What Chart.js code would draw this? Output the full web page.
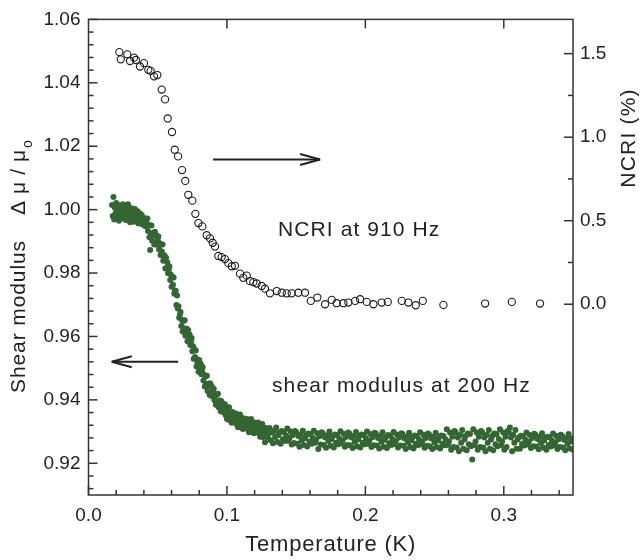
<!DOCTYPE html>
<html>
<head>
<meta charset="utf-8">
<script src="https://cdn.jsdelivr.net/npm/chart.js@4.4.1/dist/chart.umd.min.js"></script>
<style>
  html, body { margin: 0; padding: 0; background: #fff; }
  #wrap { width: 640px; height: 560px; }
</style>
</head>
<body>
<div id="wrap"><canvas id="chart"></canvas></div>
<script>
// NCRI at 910 Hz (open circles, right axis, %)
const ncriT = [
  0.0223,0.0233,0.0280,0.0300,0.0329,0.0343,0.0372,0.0401,0.0432,0.0449,
  0.0473,0.0497,0.0529,0.0553,0.0572,0.0603,0.0623,0.0647,0.0676,0.0699,
  0.0721,0.0750,0.0772,0.0794,0.0822,0.0854,0.0878,0.0897,0.0914,0.0938,
  0.0962,0.0986,0.1010,0.1035,0.1058,0.1095,0.1118,0.1143,0.1167,0.1191,
  0.1215,0.1251,0.1275,0.1311,0.1360,0.1396,0.1432,0.1468,0.1516,0.1564,
  0.1606,0.1653,0.1709,0.1757,0.1793,0.1841,0.1877,0.1926,0.1962,0.2010,
  0.2058,0.2118,0.2162,0.2263,0.2311,0.2364,0.2415,0.2564,0.2865,0.3058,
  0.3262
];
const ncriPct = [
  1.509,1.466,1.496,1.456,1.476,1.462,1.423,1.443,1.403,1.397,
  1.364,1.372,1.285,1.226,1.112,1.031,0.925,0.885,0.803,0.738,
  0.655,0.620,0.541,0.486,0.466,0.413,0.394,0.368,0.345,0.289,
  0.282,0.270,0.246,0.227,0.230,0.183,0.158,0.171,0.138,0.132,
  0.124,0.109,0.093,0.065,0.079,0.069,0.065,0.065,0.069,0.069,
  0.020,0.040,0.000,0.026,0.006,0.006,0.010,0.020,0.030,0.014,
  0.000,0.010,0.014,0.020,0.010,-0.006,0.020,-0.004,0.004,0.014,
  0.004
];

// shear modulus at 200 Hz (filled green dots, left axis)
const shearT = [
  0.0170,0.0175,0.0180,0.0185,0.0190,0.0195,0.0200,0.0205,0.0210,0.0215,
  0.0220,0.0225,0.0230,0.0235,0.0240,0.0245,0.0250,0.0255,0.0260,0.0265,
  0.0270,0.0275,0.0280,0.0285,0.0290,0.0295,0.0300,0.0305,0.0310,0.0315,
  0.0320,0.0325,0.0330,0.0335,0.0340,0.0345,0.0350,0.0355,0.0360,0.0365,
  0.0370,0.0375,0.0380,0.0385,0.0390,0.0395,0.0400,0.0405,0.0410,0.0415,
  0.0420,
  0.0425,0.0430,0.0435,0.0440,0.0445,0.0450,0.0455,0.0460,0.0465,0.0470,
  0.0475,0.0480,0.0485,0.0490,0.0495,0.0500,0.0505,0.0510,0.0515,0.0520,
  0.0525,0.0530,0.0535,0.0540,0.0545,0.0550,0.0555,0.0560,0.0565,0.0570,
  0.0575,0.0580,0.0585,0.0590,0.0595,0.0600,0.0605,0.0610,0.0615,0.0620,
  0.0625,0.0630,0.0635,0.0640,0.0645,0.0650,0.0655,0.0660,0.0665,0.0670,
  0.0675,0.0680,0.0685,0.0690,0.0695,0.0700,0.0705,0.0710,0.0715,0.0720,
  0.0725,0.0730,0.0735,0.0740,0.0745,0.0750,0.0755,0.0760,0.0765,0.0770,
  0.0775,0.0780,0.0785,0.0790,0.0795,0.0800,0.0805,0.0810,0.0815,0.0820,
  0.0825,0.0830,0.0835,0.0840,0.0845,0.0850,0.0855,0.0860,0.0865,0.0870,
  0.0875,0.0880,0.0885,0.0890,0.0895,0.0900,
  0.0905,0.0910,0.0915,0.0920,0.0925,0.0930,0.0935,0.0940,0.0945,0.0950,
  0.0955,0.0960,0.0965,0.0970,0.0975,0.0980,0.0985,0.0990,0.0995,0.1000,
  0.1005,0.1010,0.1015,0.1020,0.1025,0.1030,0.1035,0.1040,0.1045,0.1050,
  0.1055,0.1060,0.1065,0.1070,0.1075,0.1080,0.1085,0.1090,0.1095,0.1100,
  0.1105,0.1110,0.1115,0.1120,0.1125,0.1130,0.1135,0.1140,0.1145,0.1150,
  0.1155,0.1160,0.1165,0.1170,0.1175,0.1180,0.1185,0.1190,0.1195,0.1200,
  0.1205,0.1210,0.1215,0.1220,0.1225,0.1230,0.1235,0.1240,0.1245,0.1250,
  0.1255,0.1260,0.1265,0.1270,0.1275,0.1280,0.1285,0.1290,0.1295,0.1300,
  0.1308,0.1316,0.1324,0.1332,0.1340,0.1348,0.1356,0.1364,0.1372,0.1380,0.1388,0.1396,0.1404,0.1412,0.1420,0.1428,0.1436,0.1444,0.1452,0.1460,0.1468,0.1476,0.1484,0.1492,0.1500,
  0.1508,0.1516,0.1524,0.1532,0.1540,0.1548,0.1556,0.1564,0.1572,0.1580,0.1588,0.1596,0.1604,0.1612,0.1620,0.1628,0.1636,0.1644,0.1652,0.1660,0.1668,0.1676,0.1684,0.1692,0.1700,
  0.1708,0.1716,0.1724,0.1732,0.1740,0.1748,0.1756,0.1764,0.1772,0.1780,0.1788,0.1796,0.1804,0.1812,0.1820,0.1828,0.1836,0.1844,0.1852,0.1860,0.1868,0.1876,0.1884,0.1892,0.1900,
  0.1908,0.1916,0.1924,0.1932,0.1940,0.1948,0.1956,0.1964,0.1972,0.1980,0.1988,0.1996,0.2004,0.2012,0.2020,0.2028,0.2036,0.2044,0.2052,0.2060,0.2068,0.2076,0.2084,0.2092,0.2100,
  0.2108,0.2116,0.2124,0.2132,0.2140,0.2148,0.2156,0.2164,0.2172,0.2180,0.2188,0.2196,0.2204,0.2212,0.2220,0.2228,0.2236,0.2244,0.2252,0.2260,0.2268,0.2276,0.2284,0.2292,0.2300,
  0.2308,0.2316,0.2324,0.2332,0.2340,0.2348,0.2356,0.2364,0.2372,0.2380,0.2388,0.2396,0.2404,0.2412,0.2420,0.2428,0.2436,0.2444,0.2452,0.2460,0.2468,0.2476,0.2484,0.2492,0.2500,
  0.2508,0.2516,0.2524,0.2532,0.2540,0.2548,0.2556,0.2564,0.2572,0.2580,0.2588,0.2596,0.2604,0.2612,0.2620,0.2628,0.2636,0.2644,0.2652,0.2660,0.2668,0.2676,0.2684,0.2692,0.2700,
  0.2708,0.2716,0.2724,0.2732,0.2740,0.2748,0.2756,0.2764,0.2772,0.2780,0.2788,0.2796,0.2804,0.2812,0.2820,0.2828,0.2836,0.2844,0.2852,0.2860,0.2868,0.2876,0.2884,0.2892,0.2900,
  0.2908,0.2916,0.2924,0.2932,0.2940,0.2948,0.2956,0.2964,0.2972,0.2980,0.2988,0.2996,0.3004,0.3012,0.3020,0.3028,0.3036,0.3044,0.3052,0.3060,0.3068,0.3076,0.3084,0.3092,0.3100,
  0.3108,0.3116,0.3124,0.3132,0.3140,0.3148,0.3156,0.3164,0.3172,0.3180,0.3188,0.3196,0.3204,0.3212,0.3220,0.3228,0.3236,0.3244,0.3252,0.3260,0.3268,0.3276,0.3284,0.3292,0.3300,
  0.3308,0.3316,0.3324,0.3332,0.3340,0.3348,0.3356,0.3364,0.3372,0.3380,0.3388,0.3396,0.3404,0.3412,0.3420,0.3428,0.3436,0.3444,0.3452,0.3460,0.3468,0.3476,0.3484,0.3492,0.3500
];
const shearMod = [
  1.0015,0.9980,1.0040,0.9969,1.0006,0.9989,1.0021,0.9975,0.9993,1.0003,
  0.9965,1.0014,0.9984,1.0007,0.9972,0.9995,1.0017,0.9979,0.9987,1.0008,
  0.9967,0.9996,0.9973,1.0017,0.9980,0.9999,0.9960,0.9987,1.0004,0.9973,
  0.9998,0.9962,0.9986,1.0002,0.9965,0.9988,0.9973,0.9995,0.9956,0.9981,
  0.9964,0.9987,0.9968,0.9982,0.9953,0.9972,0.9957,0.9973,0.9948,0.9962,
  0.9949,
  0.9972,0.9933,0.9952,0.9913,0.9873,0.9925,0.9950,0.9902,0.9919,0.9927,
  0.9890,0.9930,0.9900,0.9919,0.9889,0.9903,0.9915,0.9874,0.9893,0.9857,
  0.9890,0.9868,0.9890,0.9839,0.9851,0.9855,0.9814,0.9848,0.9816,0.9833,
  0.9799,0.9810,0.9821,0.9778,0.9795,0.9757,0.9788,0.9763,0.9786,0.9735,
  0.9745,0.9744,0.9699,0.9729,0.9688,0.9695,0.9659,0.9668,0.9677,0.9633,
  0.9652,0.9616,0.9649,0.9626,0.9651,0.9602,0.9617,0.9624,0.9585,0.9620,
  0.9589,0.9606,0.9573,0.9583,0.9595,0.9553,0.9569,0.9530,0.9560,0.9535,
  0.9556,0.9505,0.9521,0.9527,0.9489,0.9526,0.9495,0.9514,0.9481,0.9493,
  0.9504,0.9461,0.9480,0.9442,0.9474,0.9450,0.9476,0.9428,0.9445,0.9452,
  0.9415,0.9452,0.9423,0.9442,0.9411,0.9423,
  0.9435,0.9399,0.9416,0.9385,0.9415,0.9396,0.9419,0.9377,0.9392,0.9398,
  0.9364,0.9396,0.9370,0.9388,0.9361,0.9374,0.9386,0.9352,0.9370,0.9340,
  0.9371,0.9353,0.9377,0.9336,0.9352,0.9360,0.9328,0.9362,0.9337,0.9357,
  0.9330,0.9344,0.9357,0.9324,0.9343,0.9314,0.9346,0.9329,0.9354,0.9314,
  0.9331,0.9339,0.9308,0.9342,0.9318,0.9338,0.9312,0.9325,0.9340,0.9307,
  0.9326,0.9298,0.9330,0.9314,0.9340,0.9300,0.9317,0.9326,0.9295,0.9329,
  0.9306,0.9326,0.9301,0.9315,0.9329,0.9295,0.9314,0.9284,0.9316,0.9299,
  0.9324,0.9283,0.9300,0.9308,0.9266,0.9311,0.9287,0.9307,0.9281,0.9295,
  0.9311,0.9273,0.9297,0.9263,0.9302,0.9283,0.9313,0.9267,0.9289,0.9297,0.9262,0.9302,0.9276,0.9299,0.9270,0.9287,0.9310,0.9271,0.9280,0.9300,0.9259,0.9289,0.9264,0.9302,0.9299,
  0.9262,0.9286,0.9252,0.9291,0.9273,0.9303,0.9258,0.9279,0.9288,0.9253,0.9294,0.9268,0.9292,0.9262,0.9280,0.9303,0.9265,0.9274,0.9295,0.9245,0.9285,0.9259,0.9298,0.9295,0.9258,
  0.9282,0.9249,0.9288,0.9270,0.9300,0.9255,0.9277,0.9286,0.9250,0.9291,0.9265,0.9289,0.9260,0.9278,0.9301,0.9263,0.9272,0.9293,0.9252,0.9283,0.9258,0.9297,0.9294,0.9257,0.9281,
  0.9248,0.9287,0.9269,0.9299,0.9254,0.9276,0.9285,0.9250,0.9291,0.9265,0.9289,0.9260,0.9278,0.9300,0.9262,0.9271,0.9292,0.9251,0.9282,0.9257,0.9296,0.9293,0.9256,0.9280,0.9247,
  0.9286,0.9268,0.9298,0.9252,0.9274,0.9283,0.9248,0.9289,0.9263,0.9287,0.9258,0.9276,0.9299,0.9261,0.9270,0.9291,0.9250,0.9281,0.9256,0.9295,0.9292,0.9255,0.9278,0.9245,0.9284,
  0.9266,0.9296,0.9251,0.9273,0.9282,0.9247,0.9288,0.9262,0.9286,0.9257,0.9275,0.9298,0.9260,0.9269,0.9290,0.9249,0.9280,0.9255,0.9294,0.9291,0.9254,0.9278,0.9245,0.9284,0.9266,
  0.9296,0.9251,0.9273,0.9282,0.9247,0.9288,0.9262,0.9286,0.9257,0.9275,0.9307,0.9258,0.9269,0.9297,0.9243,0.9284,0.9251,0.9302,0.9298,0.9250,0.9281,0.9238,0.9289,0.9265,0.9305,
  0.9246,0.9275,0.9286,0.9241,0.9294,0.9260,0.9292,0.9254,0.9212,0.9307,0.9258,0.9269,0.9297,0.9243,0.9284,0.9251,0.9302,0.9298,0.9250,0.9281,0.9238,0.9289,0.9265,0.9305,0.9246,
  0.9275,0.9286,0.9241,0.9294,0.9260,0.9292,0.9254,0.9277,0.9307,0.9258,0.9269,0.9297,0.9243,0.9284,0.9251,0.9302,0.9298,0.9313,0.9281,0.9238,0.9289,0.9265,0.9305,0.9246,0.9275,
  0.9281,0.9246,0.9287,0.9261,0.9285,0.9256,0.9274,0.9297,0.9259,0.9268,0.9289,0.9248,0.9279,0.9254,0.9293,0.9290,0.9253,0.9277,0.9244,0.9283,0.9265,0.9295,0.9250,0.9272,0.9281,
  0.9243,0.9284,0.9258,0.9282,0.9253,0.9271,0.9294,0.9256,0.9265,0.9286,0.9245,0.9276,0.9251,0.9290,0.9287,0.9250,0.9274,0.9241,0.9280,0.9262,0.9292,0.9247,0.9269,0.9278,0.9243
];

// axis ticks
const xTicks = [0.0, 0.1, 0.2, 0.3];
const yTicks = [0.92, 0.94, 0.96, 0.98, 1.00, 1.02, 1.04, 1.06];
const y2Ticks = [0.0, 0.5, 1.0, 1.5];

const FONT = "'Liberation Sans', Arial, sans-serif";
const INK = '#222222';
const AXIS = '#333333';
const GREEN = '#346634';

function line(ctx, x1, y1, x2, y2) {
  ctx.beginPath();
  ctx.moveTo(x1, y1);
  ctx.lineTo(x2, y2);
  ctx.stroke();
}

function arrow(ctx, x1, x2, y) {
  // tip at x2
  const dir = x2 > x1 ? 1 : -1;
  line(ctx, x1, y, x2, y);
  line(ctx, x2, y, x2 - dir * 20, y - 5.5);
  line(ctx, x2, y, x2 - dir * 20, y + 5.5);
}

const decor = {
  id: 'decor',
  afterDatasetsDraw(chart) {
    const { ctx, chartArea: a, scales } = chart;
    const sx = scales.x, sy = scales.y, sy2 = scales.y2;
    ctx.save();
    ctx.strokeStyle = AXIS;
    ctx.lineWidth = 1.5;
    ctx.strokeRect(a.left, a.top, a.right - a.left, a.bottom - a.top);

    // inward tick marks
    const MAJ = 9, MIN = 5;
    for (let i = 0; i <= 17; i++) {
      const px = sx.getPixelForValue(i * 0.02);
      const len = i % 5 === 0 ? MAJ : MIN;
      line(ctx, px, a.bottom, px, a.bottom - len);
    }
    xTicks.slice(1).forEach(v => {
      const px = sx.getPixelForValue(v);
      line(ctx, px, a.top, px, a.top + MAJ);
    });
    for (let i = 0; i <= 37; i++) {
      const py = sy.getPixelForValue(0.912 + i * 0.004);
      const len = i % 5 === 2 ? MAJ : MIN;
      line(ctx, a.left, py, a.left + len, py);
    }
    for (let i = 0; i <= 6; i++) {
      const py = sy2.getPixelForValue(i * 0.25);
      const len = i % 2 === 0 ? MAJ : MIN;
      line(ctx, a.right, py, a.right - len, py);
    }

    // arrows
    ctx.strokeStyle = INK;
    ctx.lineWidth = 2;
    arrow(ctx, sx.getPixelForValue(0.090), sx.getPixelForValue(0.1673), sy2.getPixelForValue(0.866));
    arrow(ctx, sx.getPixelForValue(0.0648), sx.getPixelForValue(0.0168), sy.getPixelForValue(0.952));

    // text
    ctx.fillStyle = INK;
    ctx.textBaseline = 'alphabetic';
    ctx.textAlign = 'left';
    ctx.font = '21px ' + FONT;
    ctx.letterSpacing = '1.1px';
    ctx.fillText('NCRI at 910 Hz', 278, 236);
    ctx.fillText('shear modulus at 200 Hz', 272, 392);

    ctx.textAlign = 'center';
    ctx.textBaseline = 'middle';
    ctx.font = '22px ' + FONT;
    ctx.letterSpacing = '0.8px';
    ctx.fillText('Temperature (K)', (a.left + a.right) / 2, 545);

    ctx.save();
    ctx.translate(629, 138);
    ctx.rotate(-Math.PI / 2);
    ctx.font = '21px ' + FONT;
    ctx.letterSpacing = '1.2px';
    ctx.fillText('NCRI (%)', 0, 0);
    ctx.restore();

    // left title, reads bottom to top
    ctx.save();
    ctx.translate(25, 393);
    ctx.rotate(-Math.PI / 2);
    ctx.textAlign = 'left';
    ctx.textBaseline = 'alphabetic';
    ctx.font = '21px ' + FONT;
    ctx.letterSpacing = '0.9px';
    ctx.fillText('Shear modulus', 0, 0);
    ctx.letterSpacing = '7px';
    ctx.fillText('\u0394\u03bc/\u03bc', 178, 0);
    const wMu = ctx.measureText('\u0394\u03bc/\u03bc').width;
    ctx.font = '14px ' + FONT;
    ctx.letterSpacing = '0px';
    ctx.fillText('o', 178 + wMu - 5, 7);
    ctx.restore();

    ctx.restore();
  }
};

const tickFont = { family: FONT, size: 19 };

new Chart(document.getElementById('chart'), {
  type: 'scatter',
  data: {
    datasets: [
      {
        label: 'NCRI at 910 Hz',
        data: ncriT.map((t, i) => ({ x: t, y: ncriPct[i] })),
        yAxisID: 'y2',
        pointStyle: 'circle',
        pointRadius: 3.6,
        borderWidth: 1.1,
        borderColor: '#1a1a1a',
        backgroundColor: 'rgba(255,255,255,0)'
      },
      {
        label: 'shear modulus at 200 Hz',
        data: shearT.map((t, i) => ({ x: t, y: shearMod[i] })),
        yAxisID: 'y',
        pointRadius: 3.0,
        borderWidth: 0,
        backgroundColor: GREEN
      }
    ]
  },
  options: {
    responsive: true,
    maintainAspectRatio: false,
    animation: false,
    events: [],
    layout: { padding: { top: 13, left: 0, right: 0, bottom: 0 } },
    plugins: { legend: { display: false }, tooltip: { enabled: false } },
    scales: {
      x: {
        type: 'linear', min: 0, max: 0.35,
        grid: { display: false, drawTicks: false },
        border: { display: false },
        afterBuildTicks: s => { s.ticks = xTicks.map(v => ({ value: v })); },
        afterFit: s => { s.height = 65; },
        ticks: { color: INK, font: tickFont, padding: 9, maxRotation: 0, callback: v => v.toFixed(1) }
      },
      y: {
        type: 'linear', position: 'left', min: 0.91, max: 1.06,
        grid: { display: false, drawTicks: false },
        border: { display: false },
        afterBuildTicks: s => { s.ticks = yTicks.map(v => ({ value: v })); },
        afterFit: s => { s.width = 88.5; },
        ticks: { color: INK, font: tickFont, padding: 8, callback: v => v.toFixed(2) }
      },
      y2: {
        type: 'linear', position: 'right', min: -1.142, max: 1.705,
        grid: { display: false, drawTicks: false },
        border: { display: false },
        afterBuildTicks: s => { s.ticks = y2Ticks.map(v => ({ value: v })); },
        afterFit: s => { s.width = 67; },
        ticks: { color: INK, font: tickFont, padding: 7, callback: v => v.toFixed(1) }
      }
    }
  },
  plugins: [decor]
});
</script>
</body>
</html>
